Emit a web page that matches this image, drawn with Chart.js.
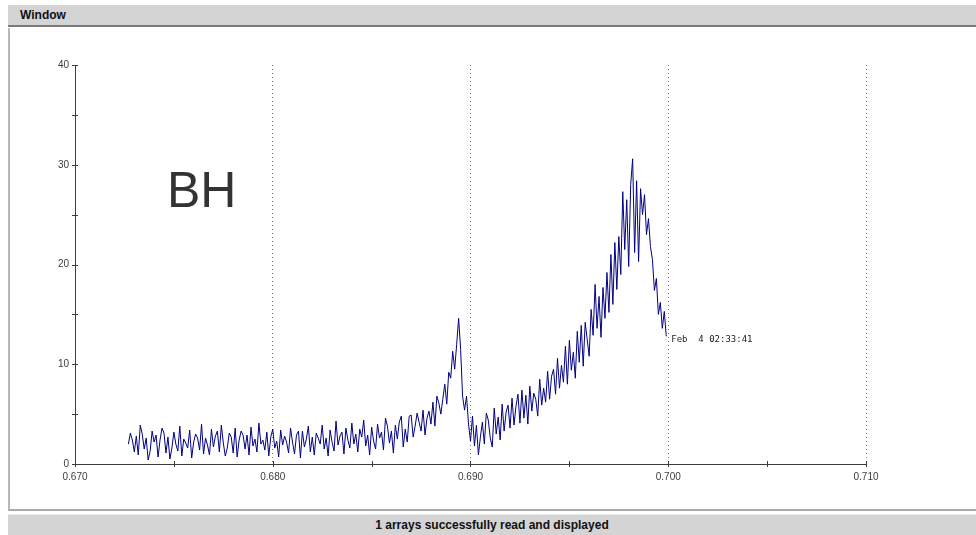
<!DOCTYPE html>
<html>
<head>
<meta charset="utf-8">
<script src="https://cdn.jsdelivr.net/npm/chart.js@4"></script>
<style>
  html, body { margin:0; padding:0; background:#ffffff; }
  #page { position:relative; width:976px; height:535px; overflow:hidden; background:#ffffff; }
  #titlebar { position:absolute; left:8px; top:5px; width:968px; height:22px; background:#d4d4d4;
              border-bottom:2px solid #7a7a7a; box-sizing:border-box; }
  #titlebar span { position:absolute; left:12px; top:3px; font:bold 12px "Liberation Sans Narrow","Liberation Sans",Arial,sans-serif; color:#111; }
  #panel { position:absolute; left:8px; top:28px; width:968px; height:483px; background:#ffffff;
           border-left:2px solid #b8b8b8; border-bottom:2px solid #a8a8a8; box-sizing:border-box; }
  #status { position:absolute; left:8px; top:514px; width:968px; height:21px; background:#d4d4d4;
            border-top:1px solid #ececec; box-sizing:border-box; text-align:center;
            font:bold 12px "Liberation Sans Narrow","Liberation Sans",Arial,sans-serif; color:#111; line-height:20px; }
  #chart { position:absolute; left:0; top:0; }
  #bh { position:absolute; left:167px; top:165px; font:50px "Liberation Sans",Arial,sans-serif; line-height:50px; color:#333333; }
  #stamp { position:absolute; font:9px "DejaVu Sans Mono",monospace; color:#222; white-space:pre; line-height:10px; }
</style>
</head>
<body>
<div id="page">
  <div id="titlebar"><span>Window</span></div>
  <div id="panel"></div>
  <div id="status">1 arrays successfully read and displayed</div>
  <canvas id="chart" width="976" height="535"></canvas>
  <div id="bh">BH</div>
  <div id="stamp">Feb  4 02:33:41</div>
</div>
<script>
// ---- data ----
const X_START = 0.6727;   // first sample position
const X_STEP = 0.0001;    // sampling step
const X_TICK_LABELS = ["0.670", "0.680", "0.690", "0.700", "0.710"];
const Y_TICK_LABELS = ["0", "10", "20", "30", "40"];
const STAMP = "Feb  4 02:33:41";
const intensity = [
  2.0, 3.1, 2.4, 1.2, 2.8, 0.9, 3.9, 3.0, 1.5, 2.6, 0.4, 1.3, 3.3, 2.2, 2.9, 0.7, 2.4, 3.6, 3.1, 1.1,
  2.7, 0.5, 1.6, 3.2, 2.0, 1.3, 3.8, 0.8, 2.5, 2.1, 1.6, 3.4, 0.6, 2.2, 3.0, 2.6, 1.4, 4.0, 1.0, 2.6,
  1.9, 0.9, 3.5, 1.7, 2.8, 3.3, 1.2, 3.9, 2.1, 0.8, 1.6, 3.1, 2.7, 1.1, 3.6, 0.7, 2.4, 3.3, 2.9, 1.5,
  2.9, 0.9, 3.7, 1.8, 2.5, 1.2, 4.1, 2.0, 2.4, 1.4, 3.2, 0.8, 2.7,
  3.5, 1.6, 2.3, 0.7, 3.4, 1.9, 2.8, 2.2, 1.1, 3.6, 2.2, 1.0, 2.9, 3.3, 0.6, 3.3, 1.7, 2.5, 3.8, 1.2,
  2.7, 0.9, 3.1, 2.6, 2.0, 3.9, 1.5, 2.6, 0.8, 3.4, 2.2, 1.3, 4.3, 1.9, 2.8, 3.2, 1.0, 3.6, 2.4, 1.6,
  4.1, 2.0, 3.0, 1.2, 3.5, 2.7, 4.4, 1.8, 2.9, 0.9,
  3.7, 2.3, 1.5, 4.0, 2.6, 3.2, 1.4, 4.6, 3.8, 2.1, 3.3, 1.1, 3.9, 2.5, 4.2, 4.8, 1.7, 3.5, 2.2, 4.8,
  4.9, 2.7, 3.8, 5.1, 4.2, 3.3, 5.4, 2.9, 4.6, 5.3,
  4.0, 6.2, 3.8, 6.8, 6.1, 5.0, 6.5, 8.0, 6.0, 9.2, 8.6, 11.3, 9.5, 12.0, 14.6, 11.5,
  6.8, 5.4, 6.8, 4.0, 2.3, 4.8, 1.8, 3.9, 0.9, 2.7, 4.2, 2.0, 5.1, 4.4, 2.6, 1.7, 5.6, 3.0, 4.7, 2.4,
  6.0, 3.3, 5.2, 5.9, 3.6, 6.6, 3.9, 5.8, 7.0, 4.1, 7.4, 4.6, 6.9, 4.0, 7.8, 5.3, 7.1, 6.5, 4.8, 8.5,
  5.9, 7.6, 6.2, 9.3, 6.5, 8.8, 9.5, 7.0, 10.6, 7.6, 9.9, 8.2, 11.8, 8.0, 12.4, 9.4, 11.2, 8.6, 13.3, 10.2,
  13.9, 9.8, 14.2, 12.5, 10.8, 15.5, 12.9, 18.0, 13.6, 16.8, 12.7, 17.7, 14.6, 19.2, 15.2, 21.0, 16.0, 22.2, 17.5, 22.8,
  19.0, 27.3, 21.5, 26.5, 19.8, 28.0, 30.6, 21.2, 28.4, 20.3, 27.6, 25.0, 27.0, 23.0, 24.6, 21.8, 20.5, 17.4, 18.6, 15.0,
  16.2, 13.6, 15.3, 12.8
];

const points = intensity.map((v, i) => ({ x: X_START + i * X_STEP, y: v }));

const LINE = '#000080';
const AXIS = '#3c3c3c';
const TICKFONT = { family: '"Liberation Sans", Arial, sans-serif', size: 10 };

const crossTicks = {
  id: 'crossTicks',
  afterDraw(chart) {
    const ctx = chart.ctx;
    const xs = chart.scales.x, ys = chart.scales.y;
    const a = chart.chartArea;
    ctx.save();
    ctx.strokeStyle = AXIS;
    ctx.lineWidth = 1;
    ctx.beginPath();
    xs.ticks.forEach(t => {
      const p = Math.round(xs.getPixelForValue(t.value)) + 0.5;
      ctx.moveTo(p, a.bottom - 3); ctx.lineTo(p, a.bottom + 3);
    });
    ys.ticks.forEach(t => {
      const p = Math.round(ys.getPixelForValue(t.value)) + 0.5;
      ctx.moveTo(a.left - 3, p); ctx.lineTo(a.left + 3, p);
    });
    ctx.stroke();
    ctx.restore();
    // place the time stamp next to the last sample
    const last = points[points.length - 1];
    const st = document.getElementById('stamp');
    st.textContent = STAMP;
    st.style.left = (xs.getPixelForValue(last.x) + 5) + 'px';
    st.style.top = (ys.getPixelForValue(last.y) - 2) + 'px';
  }
};

new Chart(document.getElementById('chart'), {
  type: 'line',
  data: {
    datasets: [{
      data: points,
      borderColor: LINE,
      borderWidth: 1,
      pointRadius: 0,
      tension: 0,
      fill: false
    }]
  },
  options: {
    responsive: false,
    animation: false,
    devicePixelRatio: 1,
    layout: { padding: { left: 0, right: 110, top: 65, bottom: 0 } },
    plugins: { legend: { display: false }, tooltip: { enabled: false } },
    scales: {
      x: {
        type: 'linear',
        min: 0.670, max: 0.710,
        afterFit: s => { s.height = 71; },
        ticks: {
          stepSize: 0.005, autoSkip: false, maxRotation: 0, padding: 7,
          color: AXIS, font: TICKFONT,
          callback: v => {
            const r = Math.round(v * 1000);
            return r % 10 === 0 ? X_TICK_LABELS[(r - 670) / 10] : '';
          }
        },
        grid: {
          drawTicks: false,
          color: c => {
            if (!c.tick) return 'transparent';
            const r = Math.round(c.tick.value * 1000);
            return (r % 10 === 0 && r !== 670) ? '#7a7a7a' : 'transparent';
          },
          lineWidth: 1
        },
        border: { display: true, color: AXIS, width: 1, dash: [1, 3] }
      },
      y: {
        min: 0, max: 40,
        afterFit: s => { s.width = 75; },
        ticks: {
          stepSize: 5, padding: 6, color: AXIS, font: TICKFONT,
          callback: v => (v % 10 === 0 ? Y_TICK_LABELS[v / 10] : '')
        },
        grid: { display: true, drawOnChartArea: false, drawTicks: false },
        border: { display: true, color: AXIS, width: 1 }
      }
    }
  },
  plugins: [crossTicks]
});
</script>
</body>
</html>
